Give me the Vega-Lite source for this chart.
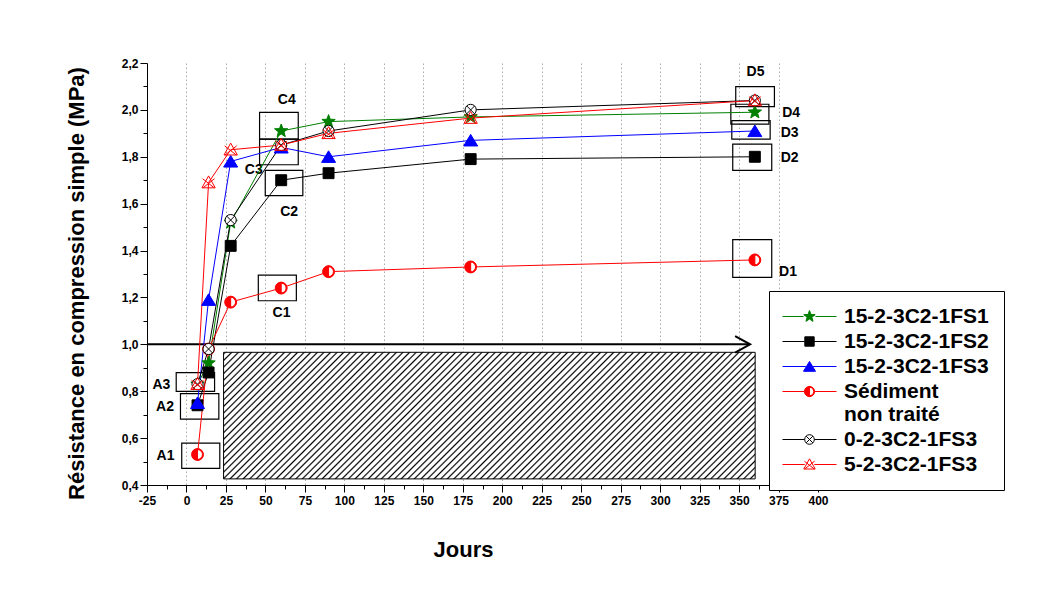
{
  "$schema": "https://vega.github.io/schema/vega-lite/v6.json",
  "width": 671,
  "height": 422,
  "autosize": {"type": "none"},
  "padding": {"left": 147, "top": 63, "right": 226, "bottom": 117},
  "background": "white",
  "config": {"view": {"stroke": null}},
  "resolve": {"scale": {"shape": "independent", "fill": "independent", "stroke": "independent"}},
  "datasets": {
    "series": [
      {"serie": "15-2-3C2-1FS1", "jour": 7, "rc": 0.83},
      {"serie": "15-2-3C2-1FS1", "jour": 14, "rc": 0.92},
      {"serie": "15-2-3C2-1FS1", "jour": 28, "rc": 1.52},
      {"serie": "15-2-3C2-1FS1", "jour": 60, "rc": 1.91},
      {"serie": "15-2-3C2-1FS1", "jour": 90, "rc": 1.95},
      {"serie": "15-2-3C2-1FS1", "jour": 180, "rc": 1.97},
      {"serie": "15-2-3C2-1FS1", "jour": 360, "rc": 1.99},
      {"serie": "15-2-3C2-1FS2", "jour": 7, "rc": 0.74},
      {"serie": "15-2-3C2-1FS2", "jour": 14, "rc": 0.88},
      {"serie": "15-2-3C2-1FS2", "jour": 28, "rc": 1.42},
      {"serie": "15-2-3C2-1FS2", "jour": 60, "rc": 1.70},
      {"serie": "15-2-3C2-1FS2", "jour": 90, "rc": 1.73},
      {"serie": "15-2-3C2-1FS2", "jour": 180, "rc": 1.79},
      {"serie": "15-2-3C2-1FS2", "jour": 360, "rc": 1.80},
      {"serie": "15-2-3C2-1FS3", "jour": 7, "rc": 0.75},
      {"serie": "15-2-3C2-1FS3", "jour": 14, "rc": 1.19},
      {"serie": "15-2-3C2-1FS3", "jour": 28, "rc": 1.78},
      {"serie": "15-2-3C2-1FS3", "jour": 60, "rc": 1.84},
      {"serie": "15-2-3C2-1FS3", "jour": 90, "rc": 1.80},
      {"serie": "15-2-3C2-1FS3", "jour": 180, "rc": 1.87},
      {"serie": "15-2-3C2-1FS3", "jour": 360, "rc": 1.91},
      {"serie": "Sédiment non traité", "jour": 7, "rc": 0.53},
      {"serie": "Sédiment non traité", "jour": 14, "rc": 0.98},
      {"serie": "Sédiment non traité", "jour": 28, "rc": 1.18},
      {"serie": "Sédiment non traité", "jour": 60, "rc": 1.24},
      {"serie": "Sédiment non traité", "jour": 90, "rc": 1.31},
      {"serie": "Sédiment non traité", "jour": 180, "rc": 1.33},
      {"serie": "Sédiment non traité", "jour": 360, "rc": 1.36},
      {"serie": "0-2-3C2-1FS3", "jour": 7, "rc": 0.83},
      {"serie": "0-2-3C2-1FS3", "jour": 14, "rc": 0.98},
      {"serie": "0-2-3C2-1FS3", "jour": 28, "rc": 1.53},
      {"serie": "0-2-3C2-1FS3", "jour": 60, "rc": 1.85},
      {"serie": "0-2-3C2-1FS3", "jour": 90, "rc": 1.91},
      {"serie": "0-2-3C2-1FS3", "jour": 180, "rc": 2.00},
      {"serie": "0-2-3C2-1FS3", "jour": 360, "rc": 2.04},
      {"serie": "5-2-3C2-1FS3", "jour": 7, "rc": 0.83},
      {"serie": "5-2-3C2-1FS3", "jour": 14, "rc": 1.69},
      {"serie": "5-2-3C2-1FS3", "jour": 28, "rc": 1.83},
      {"serie": "5-2-3C2-1FS3", "jour": 60, "rc": 1.85},
      {"serie": "5-2-3C2-1FS3", "jour": 90, "rc": 1.90},
      {"serie": "5-2-3C2-1FS3", "jour": 180, "rc": 1.965},
      {"serie": "5-2-3C2-1FS3", "jour": 360, "rc": 2.04}
    ],
    "boxes": [
      {"lab": "A1", "x1": -3.0, "x2": 21.1, "y1": 0.471, "y2": 0.579, "lx": -13.3, "ly": 0.525},
      {"lab": "A2", "x1": -3.8, "x2": 20.5, "y1": 0.681, "y2": 0.790, "lx": -13.6, "ly": 0.734},
      {"lab": "A3", "x1": -6.5, "x2": 17.8, "y1": 0.799, "y2": 0.879, "lx": -15.9, "ly": 0.826},
      {"lab": "C1", "x1": 45.5, "x2": 69.6, "y1": 1.186, "y2": 1.295, "lx": 60.2, "ly": 1.132},
      {"lab": "C2", "x1": 49.9, "x2": 73.7, "y1": 1.634, "y2": 1.742, "lx": 65.0, "ly": 1.566},
      {"lab": "C3", "x1": 46.3, "x2": 70.8, "y1": 1.766, "y2": 1.875, "lx": 42.6, "ly": 1.745},
      {"lab": "C4", "x1": 46.3, "x2": 70.8, "y1": 1.875, "y2": 1.989, "lx": 63.5, "ly": 2.043},
      {"lab": "D1", "x1": 346.0, "x2": 370.7, "y1": 1.286, "y2": 1.447, "lx": 381.0, "ly": 1.308},
      {"lab": "D2", "x1": 346.0, "x2": 370.7, "y1": 1.742, "y2": 1.854, "lx": 382.0, "ly": 1.793},
      {"lab": "D3", "x1": 345.4, "x2": 369.7, "y1": 1.875, "y2": 1.954, "lx": 382.0, "ly": 1.900},
      {"lab": "D4", "x1": 344.8, "x2": 368.9, "y1": 1.939, "y2": 2.024, "lx": 383.0, "ly": 1.988},
      {"lab": "D5", "x1": 347.9, "x2": 372.4, "y1": 2.014, "y2": 2.099, "lx": 360.4, "ly": 2.162}
    ]
  },
  "layer": [
    {
      "data": {"values": [{}]},
      "mark": {
        "type": "rect",
        "stroke": "black",
        "strokeWidth": 1,
        "fill": {
          "gradient": "linear", "x1": 0, "y1": 0, "x2": 1.172, "y2": 0.28,
          "stops": [
{"offset":0.00,"color":"#fff"},{"offset":0.0025,"color":"#000"},{"offset":0.005,"color":"#fff"},
{"offset":0.01,"color":"#fff"},{"offset":0.0125,"color":"#000"},{"offset":0.015,"color":"#fff"},
{"offset":0.02,"color":"#fff"},{"offset":0.0225,"color":"#000"},{"offset":0.025,"color":"#fff"},
{"offset":0.03,"color":"#fff"},{"offset":0.0325,"color":"#000"},{"offset":0.035,"color":"#fff"},
{"offset":0.04,"color":"#fff"},{"offset":0.0425,"color":"#000"},{"offset":0.045,"color":"#fff"},
{"offset":0.05,"color":"#fff"},{"offset":0.0525,"color":"#000"},{"offset":0.055,"color":"#fff"},
{"offset":0.06,"color":"#fff"},{"offset":0.0625,"color":"#000"},{"offset":0.065,"color":"#fff"},
{"offset":0.07,"color":"#fff"},{"offset":0.0725,"color":"#000"},{"offset":0.075,"color":"#fff"},
{"offset":0.08,"color":"#fff"},{"offset":0.0825,"color":"#000"},{"offset":0.085,"color":"#fff"},
{"offset":0.09,"color":"#fff"},{"offset":0.0925,"color":"#000"},{"offset":0.095,"color":"#fff"},
{"offset":0.10,"color":"#fff"},{"offset":0.1025,"color":"#000"},{"offset":0.105,"color":"#fff"},
{"offset":0.11,"color":"#fff"},{"offset":0.1125,"color":"#000"},{"offset":0.115,"color":"#fff"},
{"offset":0.12,"color":"#fff"},{"offset":0.1225,"color":"#000"},{"offset":0.125,"color":"#fff"},
{"offset":0.13,"color":"#fff"},{"offset":0.1325,"color":"#000"},{"offset":0.135,"color":"#fff"},
{"offset":0.14,"color":"#fff"},{"offset":0.1425,"color":"#000"},{"offset":0.145,"color":"#fff"},
{"offset":0.15,"color":"#fff"},{"offset":0.1525,"color":"#000"},{"offset":0.155,"color":"#fff"},
{"offset":0.16,"color":"#fff"},{"offset":0.1625,"color":"#000"},{"offset":0.165,"color":"#fff"},
{"offset":0.17,"color":"#fff"},{"offset":0.1725,"color":"#000"},{"offset":0.175,"color":"#fff"},
{"offset":0.18,"color":"#fff"},{"offset":0.1825,"color":"#000"},{"offset":0.185,"color":"#fff"},
{"offset":0.19,"color":"#fff"},{"offset":0.1925,"color":"#000"},{"offset":0.195,"color":"#fff"},
{"offset":0.20,"color":"#fff"},{"offset":0.2025,"color":"#000"},{"offset":0.205,"color":"#fff"},
{"offset":0.21,"color":"#fff"},{"offset":0.2125,"color":"#000"},{"offset":0.215,"color":"#fff"},
{"offset":0.22,"color":"#fff"},{"offset":0.2225,"color":"#000"},{"offset":0.225,"color":"#fff"},
{"offset":0.23,"color":"#fff"},{"offset":0.2325,"color":"#000"},{"offset":0.235,"color":"#fff"},
{"offset":0.24,"color":"#fff"},{"offset":0.2425,"color":"#000"},{"offset":0.245,"color":"#fff"},
{"offset":0.25,"color":"#fff"},{"offset":0.2525,"color":"#000"},{"offset":0.255,"color":"#fff"},
{"offset":0.26,"color":"#fff"},{"offset":0.2625,"color":"#000"},{"offset":0.265,"color":"#fff"},
{"offset":0.27,"color":"#fff"},{"offset":0.2725,"color":"#000"},{"offset":0.275,"color":"#fff"},
{"offset":0.28,"color":"#fff"},{"offset":0.2825,"color":"#000"},{"offset":0.285,"color":"#fff"},
{"offset":0.29,"color":"#fff"},{"offset":0.2925,"color":"#000"},{"offset":0.295,"color":"#fff"},
{"offset":0.30,"color":"#fff"},{"offset":0.3025,"color":"#000"},{"offset":0.305,"color":"#fff"},
{"offset":0.31,"color":"#fff"},{"offset":0.3125,"color":"#000"},{"offset":0.315,"color":"#fff"},
{"offset":0.32,"color":"#fff"},{"offset":0.3225,"color":"#000"},{"offset":0.325,"color":"#fff"},
{"offset":0.33,"color":"#fff"},{"offset":0.3325,"color":"#000"},{"offset":0.335,"color":"#fff"},
{"offset":0.34,"color":"#fff"},{"offset":0.3425,"color":"#000"},{"offset":0.345,"color":"#fff"},
{"offset":0.35,"color":"#fff"},{"offset":0.3525,"color":"#000"},{"offset":0.355,"color":"#fff"},
{"offset":0.36,"color":"#fff"},{"offset":0.3625,"color":"#000"},{"offset":0.365,"color":"#fff"},
{"offset":0.37,"color":"#fff"},{"offset":0.3725,"color":"#000"},{"offset":0.375,"color":"#fff"},
{"offset":0.38,"color":"#fff"},{"offset":0.3825,"color":"#000"},{"offset":0.385,"color":"#fff"},
{"offset":0.39,"color":"#fff"},{"offset":0.3925,"color":"#000"},{"offset":0.395,"color":"#fff"},
{"offset":0.40,"color":"#fff"},{"offset":0.4025,"color":"#000"},{"offset":0.405,"color":"#fff"},
{"offset":0.41,"color":"#fff"},{"offset":0.4125,"color":"#000"},{"offset":0.415,"color":"#fff"},
{"offset":0.42,"color":"#fff"},{"offset":0.4225,"color":"#000"},{"offset":0.425,"color":"#fff"},
{"offset":0.43,"color":"#fff"},{"offset":0.4325,"color":"#000"},{"offset":0.435,"color":"#fff"},
{"offset":0.44,"color":"#fff"},{"offset":0.4425,"color":"#000"},{"offset":0.445,"color":"#fff"},
{"offset":0.45,"color":"#fff"},{"offset":0.4525,"color":"#000"},{"offset":0.455,"color":"#fff"},
{"offset":0.46,"color":"#fff"},{"offset":0.4625,"color":"#000"},{"offset":0.465,"color":"#fff"},
{"offset":0.47,"color":"#fff"},{"offset":0.4725,"color":"#000"},{"offset":0.475,"color":"#fff"},
{"offset":0.48,"color":"#fff"},{"offset":0.4825,"color":"#000"},{"offset":0.485,"color":"#fff"},
{"offset":0.49,"color":"#fff"},{"offset":0.4925,"color":"#000"},{"offset":0.495,"color":"#fff"},
{"offset":0.50,"color":"#fff"},{"offset":0.5025,"color":"#000"},{"offset":0.505,"color":"#fff"},
{"offset":0.51,"color":"#fff"},{"offset":0.5125,"color":"#000"},{"offset":0.515,"color":"#fff"},
{"offset":0.52,"color":"#fff"},{"offset":0.5225,"color":"#000"},{"offset":0.525,"color":"#fff"},
{"offset":0.53,"color":"#fff"},{"offset":0.5325,"color":"#000"},{"offset":0.535,"color":"#fff"},
{"offset":0.54,"color":"#fff"},{"offset":0.5425,"color":"#000"},{"offset":0.545,"color":"#fff"},
{"offset":0.55,"color":"#fff"},{"offset":0.5525,"color":"#000"},{"offset":0.555,"color":"#fff"},
{"offset":0.56,"color":"#fff"},{"offset":0.5625,"color":"#000"},{"offset":0.565,"color":"#fff"},
{"offset":0.57,"color":"#fff"},{"offset":0.5725,"color":"#000"},{"offset":0.575,"color":"#fff"},
{"offset":0.58,"color":"#fff"},{"offset":0.5825,"color":"#000"},{"offset":0.585,"color":"#fff"},
{"offset":0.59,"color":"#fff"},{"offset":0.5925,"color":"#000"},{"offset":0.595,"color":"#fff"},
{"offset":0.60,"color":"#fff"},{"offset":0.6025,"color":"#000"},{"offset":0.605,"color":"#fff"},
{"offset":0.61,"color":"#fff"},{"offset":0.6125,"color":"#000"},{"offset":0.615,"color":"#fff"},
{"offset":0.62,"color":"#fff"},{"offset":0.6225,"color":"#000"},{"offset":0.625,"color":"#fff"},
{"offset":0.63,"color":"#fff"},{"offset":0.6325,"color":"#000"},{"offset":0.635,"color":"#fff"},
{"offset":0.64,"color":"#fff"},{"offset":0.6425,"color":"#000"},{"offset":0.645,"color":"#fff"},
{"offset":0.65,"color":"#fff"},{"offset":0.6525,"color":"#000"},{"offset":0.655,"color":"#fff"},
{"offset":0.66,"color":"#fff"},{"offset":0.6625,"color":"#000"},{"offset":0.665,"color":"#fff"},
{"offset":0.67,"color":"#fff"},{"offset":0.6725,"color":"#000"},{"offset":0.675,"color":"#fff"},
{"offset":0.68,"color":"#fff"},{"offset":0.6825,"color":"#000"},{"offset":0.685,"color":"#fff"},
{"offset":0.69,"color":"#fff"},{"offset":0.6925,"color":"#000"},{"offset":0.695,"color":"#fff"},
{"offset":0.70,"color":"#fff"},{"offset":0.7025,"color":"#000"},{"offset":0.705,"color":"#fff"},
{"offset":0.71,"color":"#fff"},{"offset":0.7125,"color":"#000"},{"offset":0.715,"color":"#fff"},
{"offset":0.72,"color":"#fff"},{"offset":0.7225,"color":"#000"},{"offset":0.725,"color":"#fff"},
{"offset":0.73,"color":"#fff"},{"offset":0.7325,"color":"#000"},{"offset":0.735,"color":"#fff"},
{"offset":0.74,"color":"#fff"},{"offset":0.7425,"color":"#000"},{"offset":0.745,"color":"#fff"},
{"offset":0.75,"color":"#fff"},{"offset":0.7525,"color":"#000"},{"offset":0.755,"color":"#fff"},
{"offset":0.76,"color":"#fff"},{"offset":0.7625,"color":"#000"},{"offset":0.765,"color":"#fff"},
{"offset":0.77,"color":"#fff"},{"offset":0.7725,"color":"#000"},{"offset":0.775,"color":"#fff"},
{"offset":0.78,"color":"#fff"},{"offset":0.7825,"color":"#000"},{"offset":0.785,"color":"#fff"},
{"offset":0.79,"color":"#fff"},{"offset":0.7925,"color":"#000"},{"offset":0.795,"color":"#fff"},
{"offset":0.80,"color":"#fff"},{"offset":0.8025,"color":"#000"},{"offset":0.805,"color":"#fff"},
{"offset":0.81,"color":"#fff"},{"offset":0.8125,"color":"#000"},{"offset":0.815,"color":"#fff"},
{"offset":0.82,"color":"#fff"},{"offset":0.8225,"color":"#000"},{"offset":0.825,"color":"#fff"},
{"offset":0.83,"color":"#fff"},{"offset":0.8325,"color":"#000"},{"offset":0.835,"color":"#fff"},
{"offset":0.84,"color":"#fff"},{"offset":0.8425,"color":"#000"},{"offset":0.845,"color":"#fff"},
{"offset":0.85,"color":"#fff"},{"offset":0.8525,"color":"#000"},{"offset":0.855,"color":"#fff"},
{"offset":0.86,"color":"#fff"},{"offset":0.8625,"color":"#000"},{"offset":0.865,"color":"#fff"},
{"offset":0.87,"color":"#fff"},{"offset":0.8725,"color":"#000"},{"offset":0.875,"color":"#fff"},
{"offset":0.88,"color":"#fff"},{"offset":0.8825,"color":"#000"},{"offset":0.885,"color":"#fff"},
{"offset":0.89,"color":"#fff"},{"offset":0.8925,"color":"#000"},{"offset":0.895,"color":"#fff"},
{"offset":0.90,"color":"#fff"},{"offset":0.9025,"color":"#000"},{"offset":0.905,"color":"#fff"},
{"offset":0.91,"color":"#fff"},{"offset":0.9125,"color":"#000"},{"offset":0.915,"color":"#fff"},
{"offset":0.92,"color":"#fff"},{"offset":0.9225,"color":"#000"},{"offset":0.925,"color":"#fff"},
{"offset":0.93,"color":"#fff"},{"offset":0.9325,"color":"#000"},{"offset":0.935,"color":"#fff"},
{"offset":0.94,"color":"#fff"},{"offset":0.9425,"color":"#000"},{"offset":0.945,"color":"#fff"},
{"offset":0.95,"color":"#fff"},{"offset":0.9525,"color":"#000"},{"offset":0.955,"color":"#fff"},
{"offset":0.96,"color":"#fff"},{"offset":0.9625,"color":"#000"},{"offset":0.965,"color":"#fff"},
{"offset":0.97,"color":"#fff"},{"offset":0.9725,"color":"#000"},{"offset":0.975,"color":"#fff"},
{"offset":0.98,"color":"#fff"},{"offset":0.9825,"color":"#000"},{"offset":0.985,"color":"#fff"},
{"offset":0.99,"color":"#fff"},{"offset":0.9925,"color":"#000"},{"offset":0.995,"color":"#fff"},
{"offset":1,"color":"#fff"}
          ]
        }
      },
      "encoding": {
        "x": {"datum": 23.5, "type": "quantitative", "scale": {"domain": [-25, 400], "nice": false, "zero": false}},
        "x2": {"datum": 360.2},
        "y": {"datum": 0.966, "type": "quantitative", "scale": {"domain": [0.4, 2.2], "nice": false, "zero": false}},
        "y2": {"datum": 0.426}
      }
    },
    {
      "data": {"values": [{}]},
      "mark": {"type": "rule", "color": "black", "strokeWidth": 2},
      "encoding": {
        "x": {"datum": -25, "type": "quantitative", "scale": {"domain": [-25, 400], "nice": false, "zero": false}},
        "x2": {"datum": 357},
        "y": {"datum": 1.0, "type": "quantitative", "scale": {"domain": [0.4, 2.2], "nice": false, "zero": false}}
      }
    },
    {
      "data": {"name": "boxes"},
      "mark": {"type": "rect", "fill": "transparent", "stroke": "black", "strokeWidth": 1.2},
      "encoding": {
        "x": {"field": "x1", "type": "quantitative", "scale": {"domain": [-25, 400], "nice": false, "zero": false}},
        "x2": {"field": "x2"},
        "y": {"field": "y1", "type": "quantitative", "scale": {"domain": [0.4, 2.2], "nice": false, "zero": false}},
        "y2": {"field": "y2"}
      }
    },
    {
      "data": {"name": "boxes"},
      "mark": {"type": "text", "font": "Liberation Sans", "fontSize": 14, "fontWeight": "bold", "color": "black", "align": "center", "baseline": "middle"},
      "encoding": {
        "x": {"field": "lx", "type": "quantitative", "scale": {"domain": [-25, 400], "nice": false, "zero": false}},
        "y": {"field": "ly", "type": "quantitative", "scale": {"domain": [0.4, 2.2], "nice": false, "zero": false}},
        "text": {"field": "lab", "type": "nominal"}
      }
    },
    {
      "data": {"name": "series"},
      "mark": {"type": "line", "strokeWidth": 1},
      "encoding": {
        "x": {
          "field": "jour", "type": "quantitative",
          "scale": {"domain": [-25, 400], "nice": false, "zero": false},
          "axis": {
            "title": "Jours",
            "titleFont": "Liberation Sans", "titleFontSize": 22, "titleFontWeight": "bold", "titleColor": "black",
            "titleX": 316, "titleY": 54,
            "tickCount": 100,
            "values": [-25,-12.5,0,12.5,25,37.5,50,62.5,75,87.5,100,112.5,125,137.5,150,162.5,175,187.5,200,212.5,225,237.5,250,262.5,275,287.5,300,312.5,325,337.5,350,362.5,375,387.5,400],
            "labelExpr": "datum.value % 25 == 0 ? toString(datum.value) : ''",
            "labelFont": "Liberation Sans", "labelFontSize": 12, "labelFontWeight": "bold", "labelColor": "black",
            "labelPadding": 3, "labelOverlap": false, "labelFlush": false,
            "domainColor": "black", "domainWidth": 1,
            "tickColor": "black", "tickWidth": 1,
            "tickSize": {"condition": {"test": "datum.value % 25 == 0", "value": 7}, "value": 4},
            "grid": true, "gridColor": "#a8a8a8", "gridWidth": 1, "gridDash": [1.5, 2.5],
            "gridOpacity": {"condition": {"test": "datum.value % 25 == 0 && datum.value > -25 && datum.value < 400", "value": 1}, "value": 0}
          }
        },
        "y": {
          "field": "rc", "type": "quantitative",
          "scale": {"domain": [0.4, 2.2], "nice": false, "zero": false},
          "axis": {
            "title": "Résistance en compression simple (MPa)",
            "titleFont": "Liberation Sans", "titleFontSize": 22, "titleFontWeight": "bold", "titleColor": "black",
            "titleX": -59, "titleY": 220,
            "tickCount": 100,
            "values": [0.4,0.5,0.6,0.7,0.8,0.9,1.0,1.1,1.2,1.3,1.4,1.5,1.6,1.7,1.8,1.9,2.0,2.1,2.2],
            "labelExpr": "round(datum.value * 10) % 2 == 0 ? replace(format(datum.value, '.1f'), '.', ',') : ''",
            "labelFont": "Liberation Sans", "labelFontSize": 12, "labelFontWeight": "bold", "labelColor": "black",
            "labelPadding": 2, "labelOverlap": false, "labelFlush": false,
            "domainColor": "black", "domainWidth": 1,
            "tickColor": "black", "tickWidth": 1,
            "tickSize": {"condition": {"test": "round(datum.value * 10) % 2 == 0", "value": 7}, "value": 4},
            "grid": false
          }
        },
        "color": {
          "field": "serie", "type": "nominal",
          "scale": {
            "domain": ["15-2-3C2-1FS1", "15-2-3C2-1FS2", "15-2-3C2-1FS3", "Sédiment non traité", "0-2-3C2-1FS3", "5-2-3C2-1FS3"],
            "range": ["#008000", "#000000", "#0000ff", "#ff0000", "#000000", "#ff0000"]
          },
          "legend": null
        }
      }
    },
    {
      "data": {"name": "series"},
      "transform": [{"filter": "datum.serie == 'Sédiment non traité'"}],
      "mark": {"type": "point", "shape": "circle", "size": 144, "filled": true, "fill": "white", "opacity": 1, "strokeWidth": 0},
      "encoding": {
        "x": {"field": "jour", "type": "quantitative", "scale": {"domain": [-25, 400], "nice": false, "zero": false}},
        "y": {"field": "rc", "type": "quantitative", "scale": {"domain": [0.4, 2.2], "nice": false, "zero": false}}
      }
    },
    {
      "data": {"name": "series"},
      "mark": {"type": "point", "size": 196, "opacity": 1, "strokeWidth": 1},
      "encoding": {
        "x": {"field": "jour", "type": "quantitative", "scale": {"domain": [-25, 400], "nice": false, "zero": false}},
        "y": {"field": "rc", "type": "quantitative", "scale": {"domain": [0.4, 2.2], "nice": false, "zero": false}},
        "shape": {
          "field": "serie", "type": "nominal",
          "scale": {
            "domain": ["15-2-3C2-1FS1", "15-2-3C2-1FS2", "15-2-3C2-1FS3", "Sédiment non traité", "0-2-3C2-1FS3", "5-2-3C2-1FS3"],
            "range": [
              "M0,-1L0.247,-0.34L0.951,-0.309L0.399,0.13L0.588,0.809L0,0.42L-0.588,0.809L-0.399,0.13L-0.951,-0.309L-0.247,-0.34Z",
              "M-0.78,-0.78L0.78,-0.78L0.78,0.78L-0.78,0.78Z",
              "M0,-0.85L1,0.8L-1,0.8Z",
              "M0,-0.85A0.85,0.85,0,0,0,0,0.85Z M0,-0.85A0.85,0.85,0,0,1,0,0.85L0,0.7A0.7,0.7,0,0,0,0,-0.7Z",
              "M0.8,0A0.8,0.8,0,1,1,-0.8,0A0.8,0.8,0,1,1,0.8,0Z M-0.566,-0.566L0.566,0.566M0.566,-0.566L-0.566,0.566",
              "M0,-0.95L0.95,0.75L-0.95,0.75Z M-0.85,-0.55L0.8,0.75M0.85,-0.55L-0.8,0.75"
            ]
          },
          "legend": null
        },
        "fill": {
          "field": "serie", "type": "nominal",
          "scale": {
            "domain": ["15-2-3C2-1FS1", "15-2-3C2-1FS2", "15-2-3C2-1FS3", "Sédiment non traité", "0-2-3C2-1FS3", "5-2-3C2-1FS3"],
            "range": ["#008000", "#000000", "#0000ff", "#ff0000", "#ffffff", "transparent"]
          },
          "legend": null
        },
        "stroke": {
          "field": "serie", "type": "nominal",
          "scale": {
            "domain": ["15-2-3C2-1FS1", "15-2-3C2-1FS2", "15-2-3C2-1FS3", "Sédiment non traité", "0-2-3C2-1FS3", "5-2-3C2-1FS3"],
            "range": ["#008000", "#000000", "#0000ff", "#ff0000", "#000000", "#ff0000"]
          },
          "legend": null
        }
      }
    },
    {
      "data": {"values": [{}]},
      "mark": {"type": "point", "shape": "M-1,-0.55L0,0L-1,0.55", "size": 900, "filled": false, "stroke": "black", "strokeWidth": 2, "opacity": 1},
      "encoding": {
        "x": {"datum": 357, "type": "quantitative", "scale": {"domain": [-25, 400], "nice": false, "zero": false}},
        "y": {"datum": 1.0, "type": "quantitative", "scale": {"domain": [0.4, 2.2], "nice": false, "zero": false}}
      }
    },
    {
      "data": {"name": "series"},
      "transform": [{"filter": "false"}],
      "mark": {"type": "point", "size": 144, "opacity": 1, "strokeWidth": 1},
      "encoding": {
        "shape": {
          "field": "serie", "type": "nominal",
          "scale": {
            "domain": ["15-2-3C2-1FS1", "15-2-3C2-1FS2", "15-2-3C2-1FS3", "Sédiment non traité", "0-2-3C2-1FS3", "5-2-3C2-1FS3"],
            "range": [
              "M0,-1L0.247,-0.34L0.951,-0.309L0.399,0.13L0.588,0.809L0,0.42L-0.588,0.809L-0.399,0.13L-0.951,-0.309L-0.247,-0.34Z M-4.5,0L-1,0M1,0L4.5,0",
              "M-0.78,-0.78L0.78,-0.78L0.78,0.78L-0.78,0.78Z M-4.5,0L-0.78,0M0.78,0L4.5,0",
              "M0,-0.85L1,0.8L-1,0.8Z M-4.5,0L-0.6,0M0.6,0L4.5,0",
              "M0,-0.85A0.85,0.85,0,0,0,0,0.85Z M0,-0.85A0.85,0.85,0,0,1,0,0.85L0,0.7A0.7,0.7,0,0,0,0,-0.7Z M-4.5,0L-0.85,0M0.85,0L4.5,0",
              "M0.8,0A0.8,0.8,0,1,1,-0.8,0A0.8,0.8,0,1,1,0.8,0Z M-0.566,-0.566L0.566,0.566M0.566,-0.566L-0.566,0.566 M-4.5,0L-0.8,0M0.8,0L4.5,0",
              "M0,-0.95L0.95,0.75L-0.95,0.75Z M-0.85,-0.55L0.8,0.75M0.85,-0.55L-0.8,0.75 M-4.5,0L-0.8,0M0.8,0L4.5,0"
            ]
          },
          "legend": {
            "title": null,
            "orient": "none", "legendX": 622, "legendY": 228,
            "padding": 15,
            "strokeColor": "black", "fillColor": "white",
            "symbolSize": 144, "symbolStrokeWidth": 1, "symbolOffset": 15,
            "labelOffset": 24,
            "labelFont": "Liberation Sans", "labelFontSize": 21, "labelFontWeight": "bold", "labelColor": "black",
            "labelLimit": 400,
            "rowPadding": 3,
            "labelExpr": "datum.label == 'Sédiment non traité' ? ['Sédiment', 'non traité'] : datum.label"
          }
        },
        "fill": {
          "field": "serie", "type": "nominal",
          "scale": {
            "domain": ["15-2-3C2-1FS1", "15-2-3C2-1FS2", "15-2-3C2-1FS3", "Sédiment non traité", "0-2-3C2-1FS3", "5-2-3C2-1FS3"],
            "range": ["#008000", "#000000", "#0000ff", "#ff0000", "#ffffff", "transparent"]
          },
          "legend": {"title": null}
        },
        "stroke": {
          "field": "serie", "type": "nominal",
          "scale": {
            "domain": ["15-2-3C2-1FS1", "15-2-3C2-1FS2", "15-2-3C2-1FS3", "Sédiment non traité", "0-2-3C2-1FS3", "5-2-3C2-1FS3"],
            "range": ["#008000", "#000000", "#0000ff", "#ff0000", "#000000", "#ff0000"]
          },
          "legend": {"title": null}
        }
      }
    }
  ]
}
